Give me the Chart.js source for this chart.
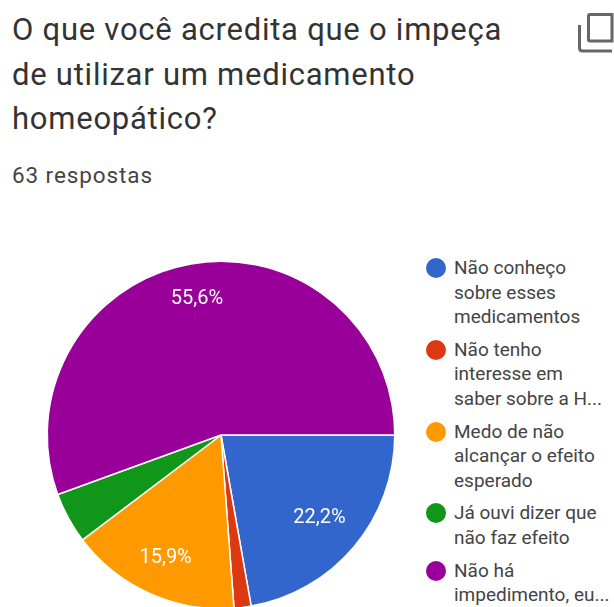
<!DOCTYPE html>
<html>
<head>
<meta charset="utf-8">
<script src="https://cdn.jsdelivr.net/npm/chart.js@4/dist/chart.umd.min.js"></script>
<style>
  html, body { margin: 0; padding: 0; background: #fff; }
  body { width: 614px; height: 607px; overflow: hidden; position: relative; font-family: Roboto, sans-serif; filter: blur(0.4px); }
  #titulo { position: absolute; left: 12px; top: 8px; width: 560px; font-size: 31px; letter-spacing: 0.75px; line-height: 44.5px; color: #333; white-space: nowrap; }
  #respostas { position: absolute; left: 12px; top: 162px; font-size: 22.5px; letter-spacing: 0.9px; line-height: 26px; color: #444; }
  #copia { position: absolute; left: 578px; top: 13px; }
  #grafico { position: absolute; left: 41px; top: 255px; }
  #legenda { position: absolute; left: 426px; top: 256px; width: 188px; font-size: 19px; line-height: 24.6px; color: #444; }
  .item { position: relative; padding-left: 28px; margin-bottom: 8px; white-space: pre-line; }
  .item i { position: absolute; left: 0; top: 2px; width: 20px; height: 20px; border-radius: 50%; }
</style>
</head>
<body>
<div id="titulo">O que você acredita que o impeça<br>de utilizar um medicamento<br>homeopático?</div>
<div id="respostas">63 respostas</div>
<svg id="copia" width="36" height="42" viewBox="0 0 36 42" fill="none" stroke="#666" stroke-width="3">
  <path d="M1.500 12 V35 Q1.500 38 5 38 H34"/>
  <path d="M12 1.500 H34 V28 H12 Q10.500 28 10.500 26.500 V3 Q10.500 1.500 12 1.500 Z"/>
</svg>
<canvas id="grafico" width="360" height="360"></canvas>
<div id="legenda"></div>

<script>
const categorias = [
  "Não conheço\nsobre esses\nmedicamentos",
  "Não tenho\ninteresse em\nsaber sobre a H...",
  "Medo de não\nalcançar o efeito\nesperado",
  "Já ouvi dizer que\nnão faz efeito",
  "Não há\nimpedimento, eu..."
]
const respostas = [14, 1, 10, 3, 35]
const rotulos = ["22,2%", "1,6%", "15,9%", "4,8%", "55,6%"]
const cores = ["#3366cc", "#dc3912", "#ff9900", "#109618", "#990099"]

/* so as fatias grandes recebem rotulo, como no forms */
const distanciaRotulo = [0.74, 0, 0.775, 0, 0.795]
const rotulosPlugin = {
  id: "rotulos",
  afterDatasetsDraw(chart) {
    const ctx = chart.ctx
    const arcos = chart.getDatasetMeta(0).data
    ctx.save()
    ctx.font = "20px Roboto"
    ctx.fillStyle = "#fff"
    ctx.textAlign = "center"
    ctx.textBaseline = "middle"
    arcos.forEach((arco, i) => {
      if (respostas[i] < 5) return
      const { x, y, startAngle, endAngle, outerRadius } = arco.getProps(["x", "y", "startAngle", "endAngle", "outerRadius"], true)
      const meio = (startAngle + endAngle) / 2
      const raio = outerRadius * distanciaRotulo[i]
      ctx.fillText(rotulos[i], x + Math.cos(meio) * raio, y + Math.sin(meio) * raio)
    })
    ctx.restore()
  }
}

new Chart(document.getElementById("grafico"), {
  type: "pie",
  data: {
    labels: categorias,
    datasets: [{
      data: respostas,
      backgroundColor: cores,
      borderColor: "#fff",
      borderWidth: 1.5
    }]
  },
  options: {
    responsive: false,
    animation: false,
    rotation: 90,
    layout: { padding: 5.5 },
    plugins: { legend: { display: false }, tooltip: { enabled: false } }
  },
  plugins: [rotulosPlugin]
})

const legenda = document.getElementById("legenda")
categorias.forEach((nome, i) => {
  const item = document.createElement("div")
  item.className = "item"
  item.textContent = nome
  const bola = document.createElement("i")
  bola.style.background = cores[i]
  item.prepend(bola)
  legenda.appendChild(item)
})
</script>
</body>
</html>
